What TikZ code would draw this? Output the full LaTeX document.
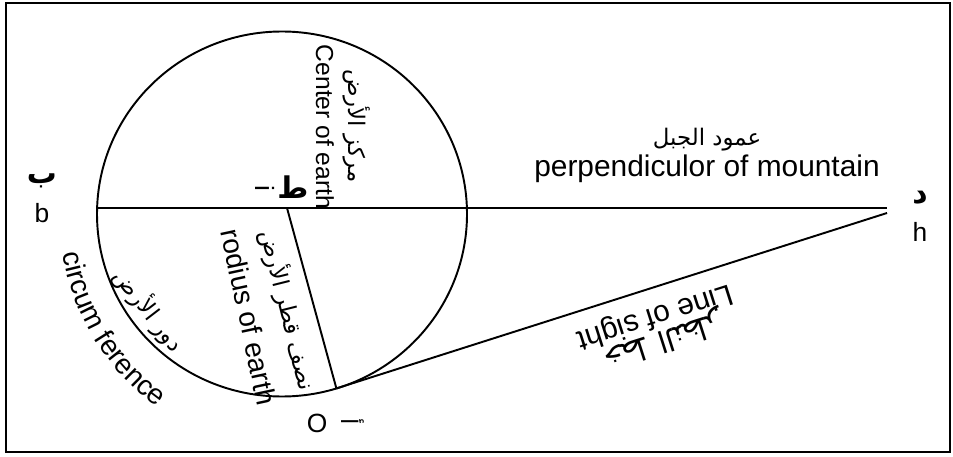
\documentclass[tikz,border=0pt]{standalone}
\usepackage{fontspec}
\setsansfont{Liberation Sans}
\newfontfamily\arabicfont[Script=Arabic]{DejaVu Sans}
\TeXXeTstate=1
\usetikzlibrary{calc,decorations.text}

\begin{document}
\begin{tikzpicture}[
  font=\sffamily,
  geo/.style={line width=1.1pt},
  eng/.style={font=\sffamily\fontsize{17}{19}\selectfont, inner sep=0pt},
  tag/.style={font=\sffamily\fontsize{15}{17}\selectfont, inner sep=0pt},
  arb/.style={font=\arabicfont\fontsize{13}{15}\selectfont, inner sep=0pt},
  arbtag/.style={font=\arabicfont\bfseries\fontsize{17}{19}\selectfont, inner sep=0pt},
]
\useasboundingbox (0,0) rectangle (19.06,9.12);

% ============ Frame ============
\draw[line width=1.2pt] (0.12,0.08) rectangle (19.0,9.06);

% ============ Earth circle and points ============
\coordinate (C) at (5.64,4.84);
\draw[geo] (C) ellipse [x radius=3.70, y radius=3.65];
\coordinate (B) at (1.94,4.96);
\coordinate (K) at (5.74,4.96);
\coordinate (D) at (17.74,4.96);
\coordinate (O) at ($(C)+(-72.9:3.70 and 3.65)$);
\coordinate (H) at (17.74,4.86);

% ============ Point labels ============
\node[arbtag] (bAr) at (0.84,5.50) {ب};
\node[tag] (bEn) at (0.84,4.86) {b};
\node[arbtag] (hAr) at (18.40,5.16) {د};
\node[tag] (hEn) at (18.40,4.48) {h};
\node[arbtag] (kAr) at (5.86,5.38) {ط};
\node[tag, rotate=-90] (kEn) at (5.30,5.36) {i};
\node[tag] (oEn) at (6.34,0.66) {O};
\node[arb, rotate=-90] (oAr) at (7.06,0.68) {أ};

% ============ Lines ============
% perpendicular of mountain (diameter produced)
\draw[geo] (B) -- (D);
% radius of earth
\draw[geo] (K) -- (O);
% line of sight, tangent at O
\draw[geo] (O) -- (H);

% ============ Line labels ============
\node[arb] (perpAr) at (14.14,6.32) {\beginR عمود الجبل\endR};
\node[eng, anchor=base] (perpEn) at (14.14,5.58) {perpendiculor of mountain};

\node[eng, font=\sffamily\fontsize{14}{16}\selectfont, rotate=-90] (centEn) at (6.50,6.58) {Center of earth};
\node[arb, rotate=-90] (centAr) at (7.14,6.60) {\beginR مركز الأرض\endR};

\node[eng, font=\sffamily\fontsize{16}{18}\selectfont, rotate=-78] (radEn) at (4.98,2.78) {rodius of earth};
\node[arb, rotate=-76] (radAr) at (5.76,2.92) {\beginR نصف قطر الأرض\endR};

\node[eng, rotate=197.7] (sightEn) at (13.10,2.80) {Line of sight};
\node[arb, font=\arabicfont\fontsize{17}{19}\selectfont, rotate=197.7] (sightAr) at (13.26,2.34) {\beginR خط النظر\endR};

% circumference, bent round the circle
\path[decorate, decoration={text along path, text align=center,
      text={|\sffamily\fontsize{16}{18}\selectfont|circum ference}}]
  ($(C)+(184:4.45 and 4.65)$) arc[start angle=184, end angle=242, x radius=4.45, y radius=4.65];
\node[arb, rotate=-52.5] (circAr) at (2.98,2.92) {\beginR دور الأرض\endR};

\end{tikzpicture}
\end{document}
